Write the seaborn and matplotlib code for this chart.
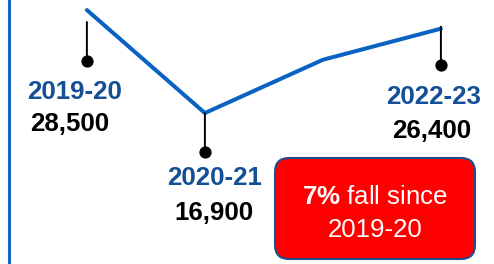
import matplotlib
matplotlib.use('Agg')
import matplotlib.pyplot as plt
import matplotlib.transforms as mtransforms
from matplotlib.patches import FancyBboxPatch
import seaborn as sns
import pandas as pd

# data
years = ['2019-20', '2020-21', '2021-22', '2022-23']
values = [28500, 16900, 22900, 26400]
value_labels = ['28,500', '16,900', '', '26,400']
note_bold = '7%'
note_rest = 'fall since'
note_line2 = '2019-20'

df = pd.DataFrame({'pos': range(len(years)), 'year': years, 'value': values})

sns.set_style('white')
plt.rcParams['font.family'] = ['Liberation Sans', 'DejaVu Sans']
plt.rcParams['mathtext.fontset'] = 'custom'
plt.rcParams['mathtext.rm'] = 'Liberation Sans'
plt.rcParams['mathtext.bf'] = 'Liberation Sans:bold'

fig = plt.figure(figsize=(4.94, 2.64), dpi=100)
ax = fig.add_axes([9 / 494, 0, 1 - 9 / 494, 1])
sns.lineplot(data=df, x='pos', y='value', color='#0A63C2', linewidth=2.9, ax=ax)
ax.set_xlim(-0.66, 3.45)
ax.set_ylim(-100, 29630)
ax.set_xticks([])
ax.set_yticks([])
ax.set_xlabel('')
ax.set_ylabel('')
for s in ['top', 'right', 'bottom']:
    ax.spines[s].set_visible(False)
ax.spines['left'].set_color('#1565C0')
ax.spines['left'].set_linewidth(2.2)

# per labelled point: (line top, dot, year dx, year dy, value dx, value dy) in pixels
layout = {
    0: (-12, -51, -12, -89, -17, -121),
    1: (0, -39, 10, -72, 9.5, -107),
    3: (2, -36, -7, -75, -9.5, -109),
}
year_col = '#154F95'
fs = 18.6

for i, (top, dot, ydx, ydy, vdx, vdy) in layout.items():
    x, v = df.loc[i, 'pos'], df.loc[i, 'value']
    t_top = mtransforms.offset_copy(ax.transData, fig=fig, x=0, y=top, units='dots')
    t_dot = mtransforms.offset_copy(ax.transData, fig=fig, x=0, y=dot, units='dots')
    ax.annotate('', xy=(x, v), xycoords=t_top, xytext=(0, dot - top), textcoords='offset pixels',
                arrowprops=dict(arrowstyle='-', color='black', lw=1.4, shrinkA=0, shrinkB=0))
    ax.plot([x], [v], 'o', color='black', markersize=7.8, transform=t_dot, clip_on=False)
    ax.annotate(years[i], xy=(x, v), xytext=(ydx, ydy), textcoords='offset pixels',
                ha='center', va='baseline', fontsize=fs, fontweight='bold', color=year_col)
    ax.annotate(value_labels[i], xy=(x, v), xytext=(vdx, vdy), textcoords='offset pixels',
                ha='center', va='baseline', fontsize=fs, fontweight='bold', color='black')

# red note box (pixel coordinates, origin bottom-left)
H = 264
ident = mtransforms.IdentityTransform()
box = FancyBboxPatch((275, H - 259), 200, 101, boxstyle='round,pad=0,rounding_size=14',
                     facecolor='#FF0000', edgecolor='#1F4E8C', linewidth=1.5, transform=ident)
fig.add_artist(box)
fig.text(375, H - 204, r'$\mathbf{' + note_bold.replace('%', r'\%') + r'}$ ' + note_rest,
         transform=ident, ha='center', va='baseline', fontsize=fs, color='white')
fig.text(375, H - 237, note_line2, transform=ident, ha='center', va='baseline',
         fontsize=fs, color='white')

fig.savefig('out.png', dpi=100)
